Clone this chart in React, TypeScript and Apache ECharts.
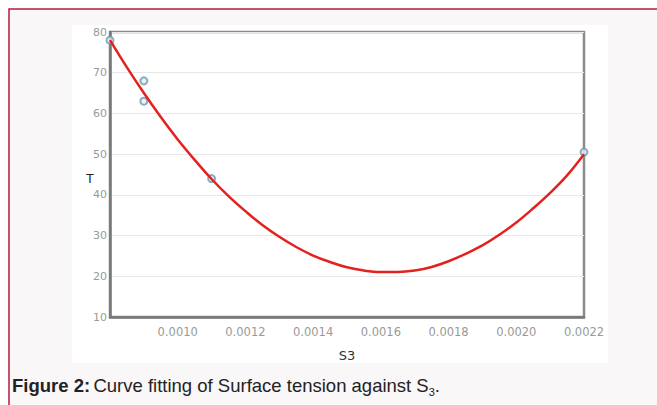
import React, { useEffect, useRef } from "react";
import * as echarts from "echarts";

const pointsX = [0.0008, 0.0009, 0.0009, 0.0011, 0.0022];
const pointsT = [78, 68, 63, 44, 50.5];

const curveX = [
  0.0008, 0.00085, 0.0009, 0.00095, 0.001, 0.00105, 0.0011, 0.00115, 0.0012, 0.00125,
  0.0013, 0.00135, 0.0014, 0.00145, 0.0015, 0.00155, 0.0016, 0.00165, 0.0017, 0.00175,
  0.0018, 0.00185, 0.0019, 0.00195, 0.002, 0.00205, 0.0021, 0.00215, 0.0022,
];
const curveT = [
  78, 71.3, 65, 59.1, 53.6, 48.6, 43.9, 39.7, 36, 32.6,
  29.7, 27.2, 25.1, 23.5, 22.2, 21.4, 21.05, 21.05, 21.4, 22.3,
  23.7, 25.5, 27.6, 30.2, 33.2, 36.7, 40.5, 44.8, 50,
];

const yTicks = [10, 20, 30, 40, 50, 60, 70, 80];
const xTickLabels = ["0.0010", "0.0012", "0.0014", "0.0016", "0.0018", "0.0020", "0.0022"];

export default function App() {
  const ref = useRef<HTMLDivElement>(null);
  useEffect(() => {
    if (!ref.current) return;
    const chart = echarts.init(ref.current, null, { renderer: "svg" });
    chart.setOption({
      animation: false,
      backgroundColor: "#ffffff",
      graphic: [
        {
          type: "rect",
          z: -10,
          shape: { x: 9, y: 9, width: 700, height: 500 },
          style: { fill: "#f9f7f8", stroke: "#b8183f", lineWidth: 1.5 },
          silent: true,
        },
        {
          type: "rect",
          z: -9,
          shape: { x: 72, y: 25, width: 536, height: 338 },
          style: { fill: "#ffffff" },
          silent: true,
        },
        {
          type: "text",
          x: 12,
          y: 385,
          style: {
            text: "{b|Figure 2:} {n|Curve fitting of Surface tension against S}{s|3}{n|.}",
            verticalAlign: "middle",
            rich: {
              b: { fontFamily: "Liberation Sans", fontSize: 18.5, fontWeight: "bold", fill: "#222", lineHeight: 24, verticalAlign: "middle" },
              n: { fontFamily: "Liberation Sans", fontSize: 18.5, fill: "#222", lineHeight: 24, verticalAlign: "middle" },
              s: { fontFamily: "Liberation Sans", fontSize: 11, fill: "#222", lineHeight: 24, padding: [11, 0, 0, 0], verticalAlign: "bottom" },
            },
          },
        },
        {
          type: "text",
          x: 90,
          y: 179,
          style: { text: "T", fontFamily: "DejaVu Sans", fontSize: 12, fill: "#222", align: "center", verticalAlign: "middle" },
        },
      ],
      grid: {
        left: 110,
        top: 32,
        right: 73,
        bottom: 88,
        show: true,
        borderColor: "#8a8a8a",
        borderWidth: 2.5,
        backgroundColor: "transparent",
      },
      xAxis: {
        type: "value",
        min: 0.0008,
        max: 0.0022,
        interval: 0.0002,
        name: "S3",
        nameLocation: "middle",
        nameGap: 32,
        nameTextStyle: { fontFamily: "DejaVu Sans", fontSize: 13, color: "#333" },
        axisLine: { show: true, onZero: false, lineStyle: { color: "#777", width: 2.5 } },
        axisTick: { show: false },
        splitLine: { show: false },
        axisLabel: {
          showMinLabel: false,
          margin: 9,
          color: "#999",
          fontFamily: "DejaVu Sans",
          fontSize: 11.5,
          formatter: (v: number) => {
            const s = v.toFixed(4);
            return xTickLabels.includes(s) ? s : "";
          },
        },
      },
      yAxis: {
        type: "value",
        min: yTicks[0],
        max: yTicks[yTicks.length - 1],
        interval: 10,
        axisLine: { show: true, lineStyle: { color: "#777", width: 2.5 } },
        axisTick: { show: false },
        splitLine: { show: true, lineStyle: { color: "#e8e8e8", width: 1 } },
        axisLabel: { margin: 3, color: "#999", fontFamily: "DejaVu Sans", fontSize: 11 },
      },
      series: [
        {
          type: "scatter",
          data: pointsX.map((x, i) => [x, pointsT[i]]),
          symbol: "circle",
          symbolSize: 7,
          itemStyle: { color: "#e8eef2", borderColor: "#6e98b0", borderWidth: 2 },
          z: 2,
        },
        {
          type: "line",
          data: curveX.map((x, i) => [x, curveT[i]]),
          smooth: 0.4,
          showSymbol: false,
          lineStyle: { color: "#e3211f", width: 2.5 },
          z: 3,
        },
      ],
    });
    return () => chart.dispose();
  }, []);
  return <div ref={ref} style={{ position: "fixed", left: 0, top: 0, width: 657, height: 405 }} />;
}
